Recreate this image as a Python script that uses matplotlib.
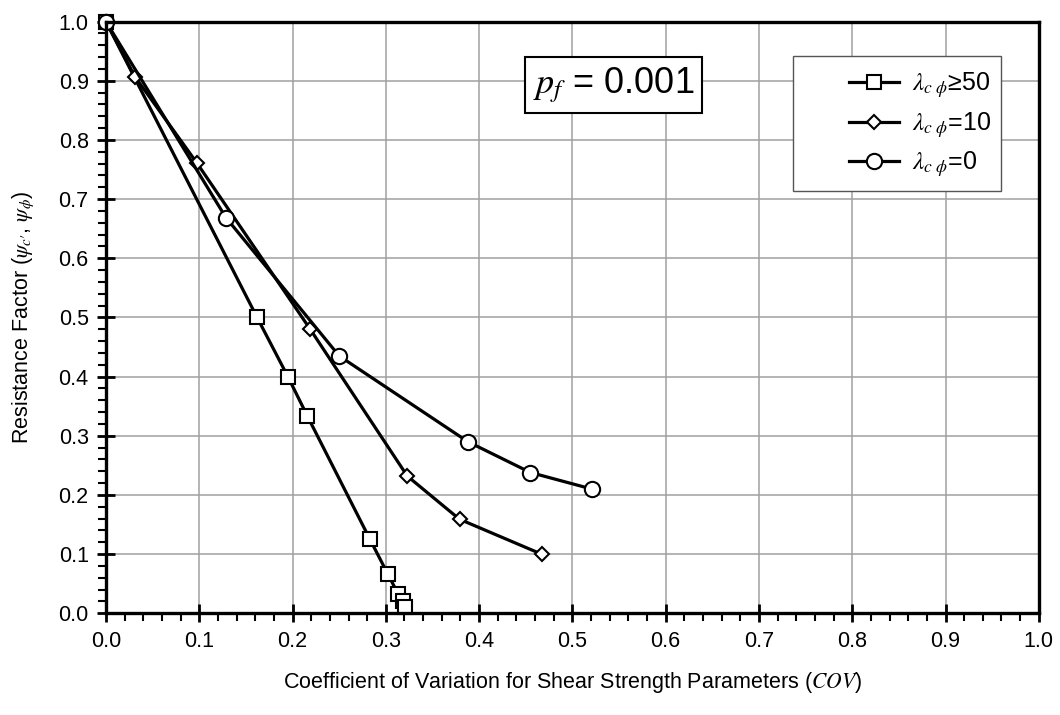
import numpy as np
import matplotlib
matplotlib.use('Agg')
import matplotlib.pyplot as plt
from matplotlib.patches import Rectangle
from matplotlib.ticker import MultipleLocator, FormatStrFormatter

plt.rcParams['font.family'] = ['Liberation Sans', 'DejaVu Sans']
plt.rcParams['mathtext.fontset'] = 'stix'

# data
cov_sq = [0.0, 0.162, 0.195, 0.216, 0.283, 0.302, 0.313, 0.318, 0.321]
rf_sq = [1.0, 0.5, 0.4, 0.333, 0.125, 0.0667, 0.0333, 0.02, 0.01]

cov_di = [0.0, 0.031, 0.0975, 0.219, 0.323, 0.379, 0.467]
rf_di = [1.0, 0.907, 0.761, 0.480, 0.232, 0.159, 0.100]

cov_ci = [0.0, 0.1285, 0.250, 0.388, 0.455, 0.521]
rf_ci = [1.0, 0.669, 0.435, 0.290, 0.238, 0.210]

labels = [r'$\lambda_{c\ \phi}$≥50', r'$\lambda_{c\ \phi}$=10', r'$\lambda_{c\ \phi}$=0']

fig = plt.figure(figsize=(10.6, 7.15), dpi=100)
ax = fig.add_axes([0.1, 0.1422, 0.880, 0.8275])

lw = 2.3
ax.plot(cov_sq, rf_sq, color='black', lw=lw, marker='s', ms=10, mfc='white', mec='black', mew=1.5,
        label=labels[0], zorder=3, clip_on=False)
ax.plot(cov_di, rf_di, color='black', lw=lw, marker='D', ms=7.5, mfc='white', mec='black', mew=1.5,
        label=labels[1], zorder=3, clip_on=False)
ax.plot(cov_ci, rf_ci, color='black', lw=lw, marker='o', ms=11, mfc='white', mec='black', mew=1.5,
        label=labels[2], zorder=4, clip_on=False)

ax.set_xlim(0, 1.0)
ax.set_ylim(0, 1.0)
ax.xaxis.set_major_locator(MultipleLocator(0.1))
ax.yaxis.set_major_locator(MultipleLocator(0.1))
ax.xaxis.set_minor_locator(MultipleLocator(0.02))
ax.yaxis.set_minor_locator(MultipleLocator(0.02))
ax.xaxis.set_major_formatter(FormatStrFormatter('%.1f'))
ax.yaxis.set_major_formatter(FormatStrFormatter('%.1f'))
ax.tick_params(which='major', direction='inout', length=13, width=2, labelsize=15.5, pad=6)
ax.tick_params(which='minor', direction='out', length=6, width=1.5)
ax.grid(True, which='major', color='#a0a0a0', lw=1.1)
ax.set_axisbelow(True)
for s in ax.spines.values():
    s.set_linewidth(2.4)
    s.set_zorder(5)

ax.set_xlabel('Coefficient of Variation for Shear Strength Parameters ($\\mathit{COV}$)', fontsize=15.5, labelpad=13)
ax.set_ylabel(r'Resistance Factor ($\psi_{c\prime}$, $\psi_{\phi}$)', fontsize=15.5, labelpad=16)

# legend frame drawn separately, it is wider than the entries
ax.add_patch(Rectangle((0.737, 0.714), 0.223, 0.2285, transform=ax.transAxes, fc='white',
                       ec='#555555', lw=1.0, zorder=6))
leg = ax.legend(loc='upper right', bbox_to_anchor=(0.957, 0.931), fontsize=18, handlelength=2.0,
                frameon=False, borderpad=0.3, labelspacing=0.4, borderaxespad=0,
                handletextpad=0.5)
leg.set_zorder(7)

ax.text(0.544, 0.8935, r'$p_f$ = 0.001', transform=ax.transAxes, fontsize=26,
        ha='center', va='center',
        bbox=dict(boxstyle='square,pad=0.22', fc='white', ec='black', lw=1.5), zorder=6)

fig.savefig('out.png', dpi=100)
